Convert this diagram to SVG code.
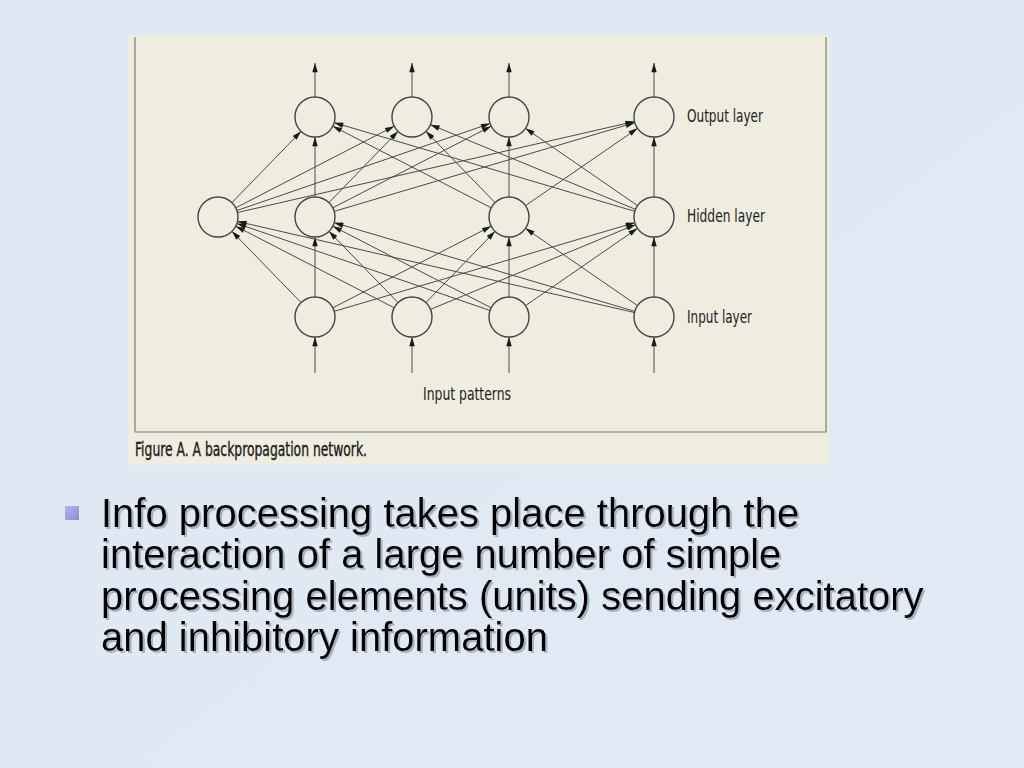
<svg xmlns="http://www.w3.org/2000/svg" width="1024" height="768" viewBox="0 0 1024 768">
<defs>
<linearGradient id="bg" x1="0" y1="0" x2="1" y2="1">
<stop offset="0" stop-color="#dde8f2"/>
<stop offset="1" stop-color="#e2ebf5"/>
</linearGradient>
<linearGradient id="bul" x1="0" y1="0" x2="1" y2="1">
<stop offset="0" stop-color="#b4b4ee"/>
<stop offset="1" stop-color="#8c8cd8"/>
</linearGradient>
<marker id="ah" viewBox="0 0 10 6" refX="10" refY="3" markerWidth="10" markerHeight="5.5" markerUnits="userSpaceOnUse" orient="auto">
<path d="M0,0 L10,3 L0,6 Z" fill="#1a1a1a"/>
</marker>
<filter id="sh" x="-5%" y="-20%" width="110%" height="140%">
<feOffset in="SourceAlpha" dx="2" dy="2" result="o"/>
<feFlood flood-color="#a9b3bd" result="c"/>
<feComposite in="c" in2="o" operator="in" result="s"/>
<feMerge><feMergeNode in="s"/><feMergeNode in="SourceGraphic"/></feMerge>
</filter>
</defs>
<style>
.node{fill:#efeddf;stroke:#444;stroke-width:1.4}
.ln{stroke:#4a4a4a;stroke-width:1;fill:none;marker-end:url(#ah)}
.lbl{font-family:"Liberation Sans Narrow","DejaVu Sans Condensed","Liberation Sans",sans-serif;font-size:17px;fill:#222}
.cap{font-family:"DejaVu Sans Condensed","Liberation Sans Narrow","Liberation Sans",sans-serif;font-size:19px;fill:#1a1a1a;stroke:#1a1a1a;stroke-width:0.35}
.body{font-family:"Liberation Sans",Arial,sans-serif;font-size:40px;fill:#000}
</style>
<rect width="1024" height="768" fill="url(#bg)"/>
<!-- scanned figure -->
<rect x="128" y="35" width="701" height="430" fill="#efeddf"/>
<path d="M135,37 V432 H826 V37" fill="none" stroke="#7d7d75" stroke-width="1.2"/>
<g id="connectors">
<line class="ln" x1="315" y1="97" x2="315" y2="63"/>
<line class="ln" x1="412" y1="97" x2="412" y2="63"/>
<line class="ln" x1="509" y1="97" x2="509" y2="63"/>
<line class="ln" x1="654" y1="97" x2="654" y2="63"/>
<line class="ln" x1="315" y1="373" x2="315" y2="337"/>
<line class="ln" x1="412" y1="373" x2="412" y2="337"/>
<line class="ln" x1="509" y1="373" x2="509" y2="337"/>
<line class="ln" x1="654" y1="373" x2="654" y2="337"/>
<line class="ln" x1="231.92" y1="202.64" x2="301.08" y2="131.36"/>
<line class="ln" x1="235.78" y1="207.84" x2="394.22" y2="126.16"/>
<line class="ln" x1="236.91" y1="210.5" x2="490.09" y2="123.5"/>
<line class="ln" x1="237.49" y1="212.53" x2="634.51" y2="121.47"/>
<line class="ln" x1="315" y1="197" x2="315" y2="137"/>
<line class="ln" x1="328.92" y1="202.64" x2="398.08" y2="131.36"/>
<line class="ln" x1="332.78" y1="207.84" x2="491.22" y2="126.16"/>
<line class="ln" x1="334.18" y1="211.34" x2="634.82" y2="122.66"/>
<line class="ln" x1="491.22" y1="207.84" x2="332.78" y2="126.16"/>
<line class="ln" x1="495.08" y1="202.64" x2="425.92" y2="131.36"/>
<line class="ln" x1="509" y1="197" x2="509" y2="137"/>
<line class="ln" x1="525.46" y1="205.65" x2="637.54" y2="128.35"/>
<line class="ln" x1="634.82" y1="211.34" x2="334.18" y2="122.66"/>
<line class="ln" x1="635.52" y1="209.36" x2="430.48" y2="124.64"/>
<line class="ln" x1="637.54" y1="205.65" x2="525.46" y2="128.35"/>
<line class="ln" x1="654" y1="197" x2="654" y2="137"/>
<line class="ln" x1="301.08" y1="302.64" x2="231.92" y2="231.36"/>
<line class="ln" x1="315" y1="297" x2="315" y2="237"/>
<line class="ln" x1="332.78" y1="307.84" x2="491.22" y2="226.16"/>
<line class="ln" x1="334.18" y1="311.34" x2="634.82" y2="222.66"/>
<line class="ln" x1="394.22" y1="307.84" x2="235.78" y2="226.16"/>
<line class="ln" x1="398.08" y1="302.64" x2="328.92" y2="231.36"/>
<line class="ln" x1="425.92" y1="302.64" x2="495.08" y2="231.36"/>
<line class="ln" x1="430.48" y1="309.36" x2="635.52" y2="224.64"/>
<line class="ln" x1="490.09" y1="310.5" x2="236.91" y2="223.5"/>
<line class="ln" x1="491.22" y1="307.84" x2="332.78" y2="226.16"/>
<line class="ln" x1="509" y1="297" x2="509" y2="237"/>
<line class="ln" x1="525.46" y1="305.65" x2="637.54" y2="228.35"/>
<line class="ln" x1="634.51" y1="312.53" x2="237.49" y2="221.47"/>
<line class="ln" x1="634.82" y1="311.34" x2="334.18" y2="222.66"/>
<line class="ln" x1="637.54" y1="305.65" x2="525.46" y2="228.35"/>
<line class="ln" x1="654" y1="297" x2="654" y2="237"/>
</g>
<g id="output-layer">
<circle id="o1" class="node" cx="315" cy="117" r="20"/>
<circle id="o2" class="node" cx="412" cy="117" r="20"/>
<circle id="o3" class="node" cx="509" cy="117" r="20"/>
<circle id="o4" class="node" cx="654" cy="117" r="20"/>
<text class="lbl" x="687" y="122" textLength="76" lengthAdjust="spacingAndGlyphs">Output layer</text>
</g>
<g id="hidden-layer">
<circle id="h1" class="node" cx="218" cy="217" r="20"/>
<circle id="h2" class="node" cx="315" cy="217" r="20"/>
<circle id="h3" class="node" cx="509" cy="217" r="20"/>
<circle id="h4" class="node" cx="654" cy="217" r="20"/>
<text class="lbl" x="687" y="222" textLength="78" lengthAdjust="spacingAndGlyphs">Hidden layer</text>
</g>
<g id="input-layer">
<circle id="i1" class="node" cx="315" cy="317" r="20"/>
<circle id="i2" class="node" cx="412" cy="317" r="20"/>
<circle id="i3" class="node" cx="509" cy="317" r="20"/>
<circle id="i4" class="node" cx="654" cy="317" r="20"/>
<text class="lbl" x="687" y="323" textLength="65" lengthAdjust="spacingAndGlyphs">Input layer</text>
</g>
<g id="input-patterns">
<text class="lbl" x="423" y="400" textLength="88" lengthAdjust="spacingAndGlyphs">Input patterns</text>
</g>
<g id="caption">
<text class="cap" x="135" y="456" textLength="232" lengthAdjust="spacingAndGlyphs">Figure A. A backpropagation network.</text>
</g>
<g id="bullet">
<rect x="65" y="506" width="14" height="14" fill="url(#bul)"/>
<g filter="url(#sh)">
<text class="body" x="101" y="527">Info processing takes place through the</text>
<text class="body" x="101" y="568">interaction of a large number of simple</text>
<text class="body" x="101" y="610">processing elements (units) sending excitatory</text>
<text class="body" x="101" y="651">and inhibitory information</text>
</g>
</g>
</svg>
